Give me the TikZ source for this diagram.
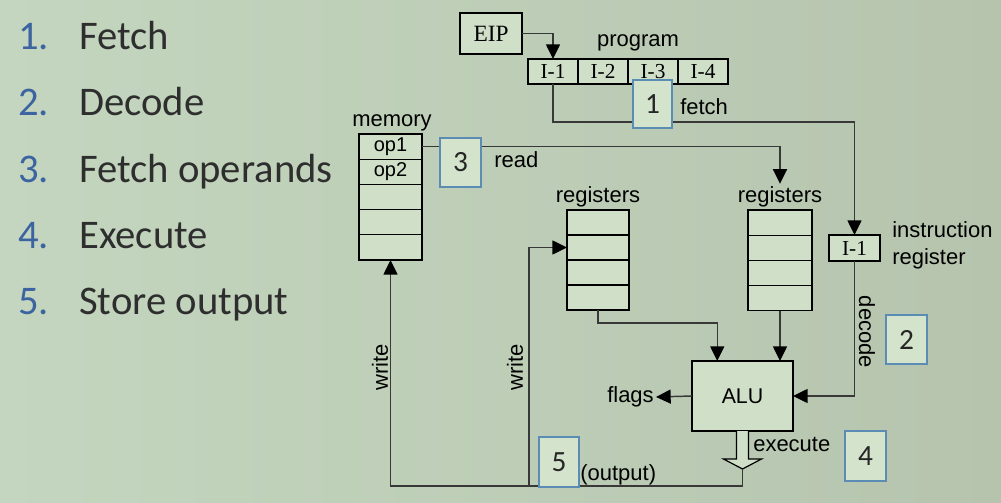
\documentclass[tikz,border=0pt]{standalone}
\usepackage{fontspec}
\setmainfont{Liberation Serif}
\newfontfamily\arialf{Liberation Sans}
\newfontfamily\calib{Carlito}
\usetikzlibrary{arrows.meta,calc}
\definecolor{bgL}{HTML}{C4D6BF}
\definecolor{bgM}{HTML}{CFDFC7}
\definecolor{bgR}{HTML}{B6C4AE}
\definecolor{cellfill}{HTML}{D0DFC8}
\definecolor{numfill}{HTML}{D4E3CC}
\definecolor{numblue}{HTML}{5A8CB4}
\definecolor{listblue}{HTML}{3C64A0}
\definecolor{listtext}{HTML}{2E2E2E}
\definecolor{linegray}{HTML}{383838}
\begin{document}
\begin{tikzpicture}[x=0.75pt,y=-0.75pt,
  cell/.style={draw=black, line width=0.9pt, fill=cellfill, inner sep=0pt, outer sep=0pt, anchor=north west, font=\fontsize{16}{16}\selectfont},
  numbox/.style={draw=numblue, line width=1.5pt, fill=numfill, inner sep=0pt, outer sep=0pt, anchor=north west, text=black!85, font=\calib\fontsize{22}{22}\selectfont},
  lbl/.style={inner sep=0pt, text=black, font=\arialf\fontsize{16.5}{16.5}\selectfont},
  conn/.style={draw=linegray, line width=1.1pt},
  arr/.style={conn, -{Triangle[length=11pt,width=10.5pt,color=black]}},
  listnum/.style={inner sep=0pt, anchor=base west, text=listblue, font=\calib\fontsize{30.5}{30.5}\selectfont},
  listtxt/.style={inner sep=0pt, anchor=base west, text=listtext, font=\calib\fontsize{30.5}{30.5}\selectfont}
]
\shade[left color=bgL, middle color=bgM, right color=bgR] (0,0) rectangle (1001,503);
\useasboundingbox (0,0) rectangle (1001,503);

% left list
\node[listnum] (n1) at (18,50) {1.};  \node[listtxt] (t1) at (79,50) {Fetch};
\node[listnum] (n2) at (18,116) {2.}; \node[listtxt] (t2) at (79,116) {Decode};
\node[listnum] (n3) at (18,183) {3.}; \node[listtxt] (t3) at (79,183) {Fetch operands};
\node[listnum] (n4) at (18,248) {4.}; \node[listtxt] (t4) at (79,248) {Execute};
\node[listnum] (n5) at (18,314) {5.}; \node[listtxt] (t5) at (79,314) {Store output};

% EIP and program
\node[cell, minimum width=46.5pt, minimum height=30.75pt, font=\fontsize{17.5}{17.5}\selectfont] (eip) at (460,13) {EIP};
\node[cell, minimum width=37.5pt, minimum height=18.75pt] (prog1) at (528,59) {I-1};
\node[cell, minimum width=37.5pt, minimum height=18.75pt] (prog2) at (578,59) {I-2};
\node[cell, minimum width=37.5pt, minimum height=18.75pt] (prog3) at (628,59) {I-3};
\node[cell, minimum width=37.5pt, minimum height=18.75pt] (prog4) at (678,59) {I-4};
\node[lbl, anchor=base] (lprog) at (638,47) {program};

% memory
\node[cell, minimum width=47.25pt, minimum height=18.9pt, font=\arialf\fontsize{15}{15}\selectfont] (mem1) at (359,134) {op1};
\node[cell, minimum width=47.25pt, minimum height=18.9pt, font=\arialf\fontsize{15}{15}\selectfont] (mem2) at (359,159.2) {op2};
\node[cell, minimum width=47.25pt, minimum height=18.9pt] (mem3) at (359,184.4) {};
\node[cell, minimum width=47.25pt, minimum height=18.9pt] (mem4) at (359,209.6) {};
\node[cell, minimum width=47.25pt, minimum height=18.9pt] (mem5) at (359,234.8) {};
\node[lbl, anchor=base] (lmem) at (392,127) {memory};

% registers left
\node[cell, minimum width=46.5pt, minimum height=18.75pt] (regL1) at (567,210) {};
\node[cell, minimum width=46.5pt, minimum height=18.75pt] (regL2) at (567,235) {};
\node[cell, minimum width=46.5pt, minimum height=18.75pt] (regL3) at (567,260) {};
\node[cell, minimum width=46.5pt, minimum height=18.75pt] (regL4) at (567,285) {};
\node[lbl, anchor=base] (lblL) at (598,202) {registers};

% registers right
\node[cell, minimum width=48pt, minimum height=18.9pt] (regR1) at (748,210) {};
\node[cell, minimum width=48pt, minimum height=18.9pt] (regR2) at (748,235.2) {};
\node[cell, minimum width=48pt, minimum height=18.9pt] (regR3) at (748,260.4) {};
\node[cell, minimum width=48pt, minimum height=18.9pt] (regR4) at (748,285.6) {};
\node[lbl, anchor=base, inner sep=1.5pt] (lblR) at (780,202) {registers};

% instruction register
\node[cell, minimum width=38.25pt, minimum height=19.5pt] (ir) at (829,235) {I-1};
\node[lbl, anchor=base west] (lins) at (892,238) {instruction};
\node[lbl, anchor=base west] (lreg) at (892,264) {register};

% ALU
\node[cell, minimum width=75.75pt, minimum height=52.5pt, font=\arialf\fontsize{16}{16}\selectfont] (alu) at (692,361) {ALU};

% connectors
\coordinate (fetchy) at (0,122);
\draw[arr] (eip.east) -| (prog1.north);
\draw[arr] (prog1.south) -- (prog1.south |- fetchy) -| (ir.north);
\draw[arr] (mem1.east) -| (lblR.north);
\draw[arr] (regR4.south) -- (regR4.south |- alu.north);
\draw[arr] (regL4.south) -- ++(0,13) -| ($(alu.north west)!0.25!(alu.north east)$);
\draw[arr] (ir.south) |- (alu.east);
\node[lbl, anchor=east, inner sep=1.5pt] (flags) at (656,397) {flags};
\draw[arr] (alu.west) -- (flags.east);

% hollow output arrow
\draw[draw=black, line width=0.9pt, fill=cellfill] ($(alu.south)+(-6,0)$) -- ++(0,28) -- ++(-13,0) -- ++(19,10) -- ++(19,-10) -- ++(-13,0) -- ++(0,-28);
\coordinate (tip) at ($(alu.south)+(0,38)$);
\coordinate (wj) at (529,486);
\draw[arr] (tip) |- (wj) -| (mem5.south);
\draw[arr] (wj) |- (regL2.west);

% labels
\node[lbl, anchor=base west] (lfetch) at (680,115) {fetch};
\node[lbl, anchor=base west] (lread) at (494,167) {read};
\node[lbl, rotate=-90] (ldec) at (867,332) {decode};
\node[lbl, rotate=90] (lw1) at (380,367) {write};
\node[lbl, rotate=90] (lw2) at (515,367) {write};
\node[lbl, anchor=base west] (lexe) at (753,451) {execute};
\node[lbl, anchor=base west] (lout) at (580,480) {(output)};

% numbered boxes
\node[numbox, minimum width=29.25pt, minimum height=36pt] (b1) at (633,80) {1};
\node[numbox, minimum width=30.75pt, minimum height=36.75pt] (b3) at (440,138) {3};
\node[numbox, minimum width=30.75pt, minimum height=36.75pt] (b2) at (886,315) {2};
\node[numbox, minimum width=30.75pt, minimum height=37.5pt] (b4) at (845,431) {4};
\node[numbox, minimum width=30pt, minimum height=37.5pt] (b5) at (539,437) {5};
\end{tikzpicture}
\end{document}
